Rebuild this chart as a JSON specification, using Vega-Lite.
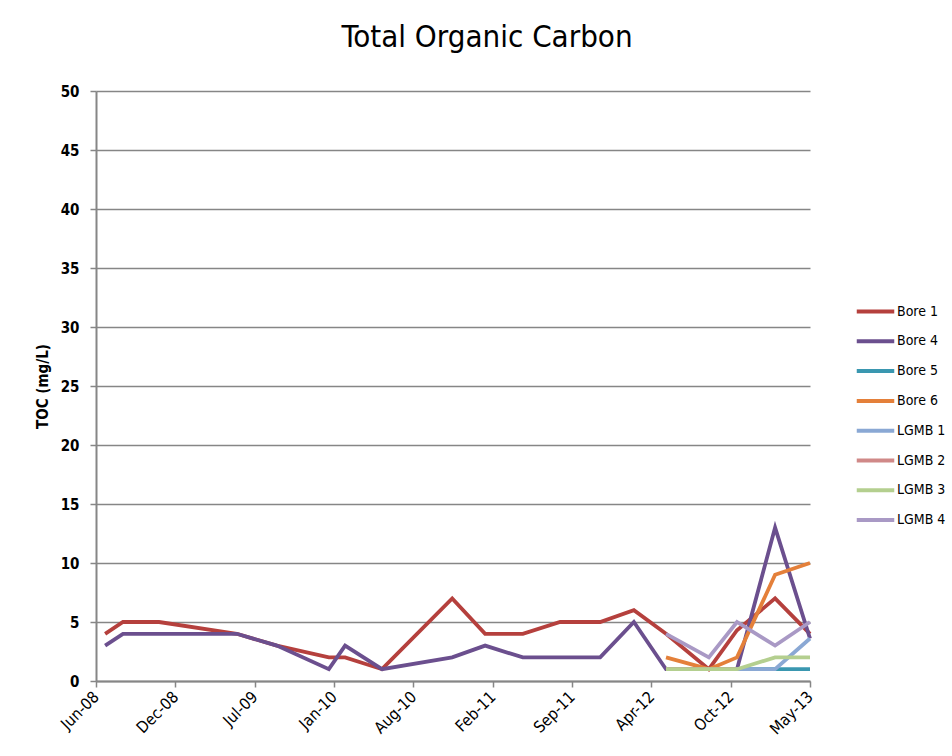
{
  "$schema": "https://vega.github.io/schema/vega-lite/v6.json",
  "autosize": {"type": "none"},
  "width": 714,
  "height": 590,
  "padding": {"left": 96, "top": 91, "right": 142, "bottom": 75},
  "background": "white",
  "config": {
    "view": {"stroke": null},
    "font": "Liberation Sans Narrow, DejaVu Sans Condensed, sans-serif"
  },
  "title": {
    "text": "Total Organic Carbon",
    "anchor": "middle",
    "dx": 34,
    "offset": 30,
    "fontSize": 31,
    "fontWeight": "normal",
    "font": "Liberation Sans Narrow, DejaVu Sans Condensed, sans-serif",
    "color": "#000000"
  },
  "data": {
    "values": [
      {"s": "Bore 1", "d": "2008-06-24", "v": 4},
      {"s": "Bore 1", "d": "2008-08-08", "v": 5},
      {"s": "Bore 1", "d": "2008-11-07", "v": 5},
      {"s": "Bore 1", "d": "2009-05-22", "v": 4},
      {"s": "Bore 1", "d": "2009-08-31", "v": 3},
      {"s": "Bore 1", "d": "2010-01-09", "v": 2},
      {"s": "Bore 1", "d": "2010-02-19", "v": 2},
      {"s": "Bore 1", "d": "2010-05-23", "v": 1},
      {"s": "Bore 1", "d": "2010-11-16", "v": 7},
      {"s": "Bore 1", "d": "2011-02-07", "v": 4},
      {"s": "Bore 1", "d": "2011-05-13", "v": 4},
      {"s": "Bore 1", "d": "2011-08-15", "v": 5},
      {"s": "Bore 1", "d": "2011-11-24", "v": 5},
      {"s": "Bore 1", "d": "2012-02-17", "v": 6},
      {"s": "Bore 1", "d": "2012-05-08", "v": 4},
      {"s": "Bore 1", "d": "2012-08-24", "v": 1},
      {"s": "Bore 1", "d": "2012-11-03", "v": 4.3},
      {"s": "Bore 1", "d": "2013-02-07", "v": 7},
      {"s": "Bore 1", "d": "2013-05-06", "v": 4},
      {"s": "Bore 4", "d": "2008-06-24", "v": 3},
      {"s": "Bore 4", "d": "2008-08-08", "v": 4},
      {"s": "Bore 4", "d": "2008-11-07", "v": 4},
      {"s": "Bore 4", "d": "2009-05-22", "v": 4},
      {"s": "Bore 4", "d": "2009-08-31", "v": 3},
      {"s": "Bore 4", "d": "2010-01-09", "v": 1},
      {"s": "Bore 4", "d": "2010-02-19", "v": 3},
      {"s": "Bore 4", "d": "2010-05-23", "v": 1},
      {"s": "Bore 4", "d": "2010-11-16", "v": 2},
      {"s": "Bore 4", "d": "2011-02-07", "v": 3},
      {"s": "Bore 4", "d": "2011-05-13", "v": 2},
      {"s": "Bore 4", "d": "2011-08-15", "v": 2},
      {"s": "Bore 4", "d": "2011-11-24", "v": 2},
      {"s": "Bore 4", "d": "2012-02-17", "v": 5},
      {"s": "Bore 4", "d": "2012-05-08", "v": 1},
      {"s": "Bore 4", "d": "2012-08-24", "v": 1},
      {"s": "Bore 4", "d": "2012-11-03", "v": 1},
      {"s": "Bore 4", "d": "2013-02-07", "v": 13},
      {"s": "Bore 4", "d": "2013-05-06", "v": 3.6},
      {"s": "Bore 5", "d": "2012-05-08", "v": 1},
      {"s": "Bore 5", "d": "2012-08-24", "v": 1},
      {"s": "Bore 5", "d": "2012-11-03", "v": 1},
      {"s": "Bore 5", "d": "2013-02-07", "v": 1},
      {"s": "Bore 5", "d": "2013-05-06", "v": 1},
      {"s": "Bore 6", "d": "2012-05-08", "v": 2},
      {"s": "Bore 6", "d": "2012-08-24", "v": 1},
      {"s": "Bore 6", "d": "2012-11-03", "v": 2},
      {"s": "Bore 6", "d": "2013-02-07", "v": 9},
      {"s": "Bore 6", "d": "2013-05-06", "v": 10},
      {"s": "LGMB 1", "d": "2012-05-08", "v": 1},
      {"s": "LGMB 1", "d": "2012-08-24", "v": 1},
      {"s": "LGMB 1", "d": "2012-11-03", "v": 1},
      {"s": "LGMB 1", "d": "2013-02-07", "v": 1},
      {"s": "LGMB 1", "d": "2013-05-06", "v": 3.6},
      {"s": "LGMB 2", "d": "2012-05-08", "v": 1},
      {"s": "LGMB 2", "d": "2012-08-24", "v": 1},
      {"s": "LGMB 2", "d": "2012-11-03", "v": 1},
      {"s": "LGMB 3", "d": "2012-05-08", "v": 1},
      {"s": "LGMB 3", "d": "2012-08-24", "v": 1},
      {"s": "LGMB 3", "d": "2012-11-03", "v": 1},
      {"s": "LGMB 3", "d": "2013-02-07", "v": 2},
      {"s": "LGMB 3", "d": "2013-05-06", "v": 2},
      {"s": "LGMB 4", "d": "2012-05-08", "v": 4},
      {"s": "LGMB 4", "d": "2012-08-24", "v": 2},
      {"s": "LGMB 4", "d": "2012-11-03", "v": 5},
      {"s": "LGMB 4", "d": "2013-02-07", "v": 3},
      {"s": "LGMB 4", "d": "2013-05-06", "v": 5}
    ]
  },
  "mark": {"type": "line", "strokeWidth": 3.8, "strokeJoin": "miter", "strokeCap": "butt"},
  "encoding": {
    "x": {
      "field": "d",
      "type": "temporal",
      "scale": {
        "type": "utc",
        "domain": [
          {"year": 2008, "month": 6, "date": 1, "utc": true},
          {"year": 2013, "month": 5, "date": 6, "utc": true}
        ]
      },
      "axis": {
        "title": null,
        "grid": false,
        "format": "%b-%y",
        "values": [
          {"year": 2008, "month": 6, "date": 1, "utc": true},
          {"year": 2008, "month": 12, "date": 18, "utc": true},
          {"year": 2009, "month": 7, "date": 6, "utc": true},
          {"year": 2010, "month": 1, "date": 22, "utc": true},
          {"year": 2010, "month": 8, "date": 10, "utc": true},
          {"year": 2011, "month": 2, "date": 26, "utc": true},
          {"year": 2011, "month": 9, "date": 14, "utc": true},
          {"year": 2012, "month": 4, "date": 1, "utc": true},
          {"year": 2012, "month": 10, "date": 18, "utc": true},
          {"year": 2013, "month": 5, "date": 6, "utc": true}
        ],
        "labelAngle": -45,
        "labelAlign": "right",
        "labelBaseline": "middle",
        "labelPadding": 7,
        "labelFontSize": 16,
        "labelColor": "#000000",
        "labelFont": "Liberation Sans Narrow, DejaVu Sans Condensed, sans-serif",
        "labelOverlap": false,
        "labelFlush": false,
        "domainColor": "#868686",
        "domainWidth": 2,
        "tickColor": "#868686",
        "tickWidth": 1.5,
        "tickSize": 6
      }
    },
    "y": {
      "field": "v",
      "type": "quantitative",
      "scale": {"domain": [0, 50], "nice": false, "zero": true},
      "axis": {
        "title": "TOC (mg/L)",
        "titleFontSize": 15,
        "titleFontWeight": "bold",
        "titleColor": "#000000",
        "titleFont": "Liberation Sans Narrow, DejaVu Sans Condensed, sans-serif",
        "titlePadding": 10,
        "values": [0, 5, 10, 15, 20, 25, 30, 35, 40, 45, 50],
        "labelFontSize": 15,
        "labelFontWeight": "bold",
        "labelColor": "#000000",
        "labelFont": "Liberation Sans Narrow, DejaVu Sans Condensed, sans-serif",
        "labelPadding": 11,
        "grid": true,
        "gridColor": "#868686",
        "gridWidth": 1.5,
        "domainColor": "#868686",
        "domainWidth": 2,
        "tickColor": "#868686",
        "tickWidth": 1.5,
        "tickSize": 6
      }
    },
    "color": {
      "field": "s",
      "type": "nominal",
      "scale": {
        "domain": ["Bore 1", "Bore 4", "Bore 5", "Bore 6", "LGMB 1", "LGMB 2", "LGMB 3", "LGMB 4"],
        "range": ["#B5403D", "#6B4F8E", "#3A97B0", "#E4803A", "#8AA8D4", "#D08988", "#B4CF8F", "#A999C5"]
      },
      "legend": {
        "title": null,
        "orient": "none",
        "legendX": 770,
        "legendY": 211,
        "padding": 0,
        "symbolType": "M-2.5,0H2.5",
        "symbolSize": 225,
        "symbolStrokeWidth": 4,
        "labelOffset": 12,
        "labelFontSize": 14,
        "labelColor": "#000000",
        "labelFont": "Liberation Sans Narrow, DejaVu Sans Condensed, sans-serif",
        "rowPadding": 11.8
      }
    }
  }
}
